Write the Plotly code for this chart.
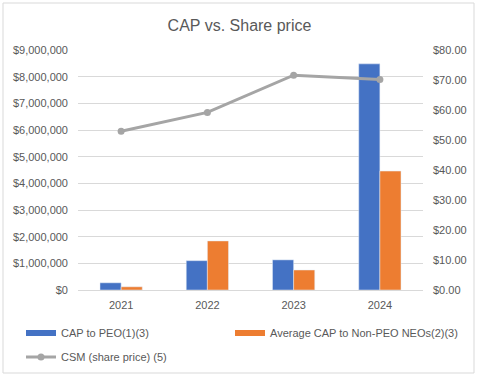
import plotly.graph_objects as go

years = ["2021", "2022", "2023", "2024"]
cap_peo = [270000, 1100000, 1130000, 8480000]
cap_non_peo = [120000, 1840000, 750000, 4460000]
share_price = [52.9, 59.2, 71.6, 70.2]

left_ticks = [0, 1e6, 2e6, 3e6, 4e6, 5e6, 6e6, 7e6, 8e6, 9e6]
right_ticks = [0, 10, 20, 30, 40, 50, 60, 70, 80]

names = ["CAP to PEO(1)(3)", "Average CAP to Non-PEO NEOs(2)(3)", "CSM (share price) (5)"]
colors = ["#4472C4", "#ED7D31", "#A5A5A5"]

txt = "#595959"
font = "Liberation Sans, Arial, sans-serif"

W, H = 479, 380
L, R, T, B = 78, 56, 50, 90
pw, ph = W - L - R, H - T - B

fig = go.Figure()
fig.add_trace(go.Bar(x=years, y=cap_peo, name=names[0], marker_color=colors[0],
                     yaxis="y", showlegend=False))
fig.add_trace(go.Bar(x=years, y=cap_non_peo, name=names[1], marker_color=colors[1],
                     yaxis="y", showlegend=False))
fig.add_trace(go.Scatter(x=years, y=share_price, name=names[2],
                         mode="lines+markers", yaxis="y2",
                         line=dict(color=colors[2], width=3),
                         marker=dict(color=colors[2], size=7), legend="legend3"))
# legend swatches for the bar series (wide flat rectangles as in the original)
fig.add_trace(go.Scatter(x=[None], y=[None], name=names[0], mode="lines",
                         line=dict(color=colors[0], width=6), legend="legend"))
fig.add_trace(go.Scatter(x=[None], y=[None], name=names[1], mode="lines",
                         line=dict(color=colors[1], width=6), legend="legend2"))


def leg(xpx, ypx):
    return dict(x=xpx / W, xref="container", xanchor="left",
                y=1 - ypx / H, yref="container", yanchor="middle",
                font=dict(size=11, color=txt, family=font),
                bgcolor="rgba(0,0,0,0)", borderwidth=0)


fig.update_layout(
    width=W, height=H,
    margin=dict(l=L, r=R, t=T, b=B, autoexpand=False),
    paper_bgcolor="white", plot_bgcolor="white",
    font=dict(family=font, size=11, color=txt),
    title=dict(text="CAP vs. Share price", x=0.5, xref="container", xanchor="center",
               y=1 - 25 / H, yref="container", yanchor="middle",
               font=dict(size=16, color=txt, family=font)),
    barmode="group", bargap=0.51, bargroupgap=0,
    xaxis=dict(type="category", showgrid=False, showline=True, linecolor="#D9D9D9",
               ticks="", ticklabelstandoff=5, tickfont=dict(size=11, color=txt)),
    yaxis=dict(range=[0, 9e6], tickvals=left_ticks, tickformat="$,.0f",
               showgrid=True, gridcolor="#D9D9D9", gridwidth=1, zeroline=False,
               showline=False, ticks="", ticklabelstandoff=9,
               tickfont=dict(size=11, color=txt)),
    yaxis2=dict(range=[0, 80], tickvals=right_ticks, tickformat="$.2f",
                overlaying="y", side="right", showgrid=False, zeroline=False,
                showline=False, ticks="", ticklabelstandoff=9,
                tickfont=dict(size=11, color=txt)),
    legend=leg(21, 333),
    legend2=leg(230, 333),
    legend3=leg(21, 357),
    shapes=[dict(type="rect", xref="paper", yref="paper",
                 x0=(3 - L) / pw, x1=(474 - L) / pw,
                 y0=(H - B - 373) / ph, y1=(H - B - 3) / ph,
                 line=dict(color="#D9D9D9", width=1), fillcolor="rgba(0,0,0,0)",
                 layer="below")],
)

fig.write_html("out.html", post_script="document.body.style.margin='0';",
               config={"displayModeBar": False})
